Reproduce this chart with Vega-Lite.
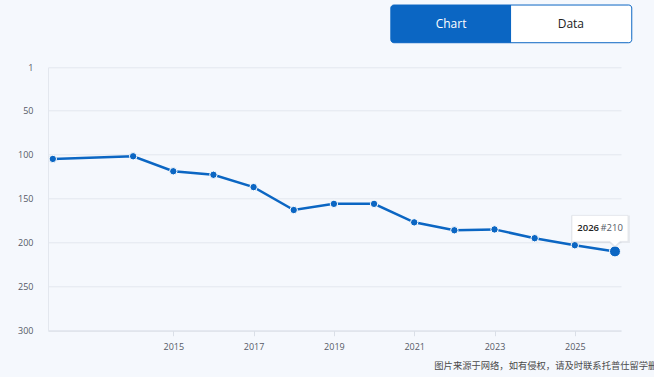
{
  "$schema": "https://vega.github.io/schema/vega-lite/v6.json",
  "width": 573,
  "height": 263.4,
  "autosize": {"type": "none"},
  "padding": {"left": 48, "top": 67.3, "right": 33, "bottom": 46.3},
  "background": "#f5f8fd",
  "config": {
    "view": {"stroke": null},
    "font": "Open Sans",
    "axis": {"labelFont": "Open Sans", "labelColor": "#555a66", "labelFontSize": 9}
  },
  "datasets": {
    "ranks": [
      {"year": 2012, "rank": 105},
      {"year": 2014, "rank": 102},
      {"year": 2015, "rank": 119},
      {"year": 2016, "rank": 123},
      {"year": 2017, "rank": 137},
      {"year": 2018, "rank": 163},
      {"year": 2019, "rank": 156},
      {"year": 2020, "rank": 156},
      {"year": 2021, "rank": 177},
      {"year": 2022, "rank": 186},
      {"year": 2023, "rank": 185},
      {"year": 2024, "rank": 195},
      {"year": 2025, "rank": 203},
      {"year": 2026, "rank": 210}
    ]
  },
  "layer": [
    {
      "data": {"name": "ranks"},
      "encoding": {
        "x": {
          "field": "year", "type": "quantitative",
          "scale": {"domain": [2011.88, 2026.15], "nice": false, "zero": false},
          "axis": {
            "title": null, "values": [2015, 2017, 2019, 2021, 2023, 2025], "format": "d",
            "grid": false, "domainColor": "#dadfe7", "tickColor": "#dadfe7", "tickSize": 5,
            "labelPadding": 7
          }
        },
        "y": {
          "field": "rank", "type": "quantitative",
          "scale": {"domain": [1, 300], "reverse": true, "nice": false, "zero": false},
          "axis": {
            "title": null, "values": [1, 50, 100, 150, 200, 250, 300],
            "grid": true, "gridColor": "#e3e7ee", "domainColor": "#e3e7ee",
            "ticks": false, "labelPadding": 15
          }
        }
      },
      "layer": [
        {
          "mark": {"type": "line", "color": "#0b66c3", "strokeWidth": 2.5}
        },
        {
          "mark": {"type": "point", "filled": true, "color": "#0b66c3", "stroke": "#ffffff", "strokeWidth": 1, "opacity": 1},
          "encoding": {
            "size": {"condition": {"test": "datum.year === 2026", "value": 120}, "value": 55}
          }
        },
        {
          "transform": [{"filter": "datum.year === 2026"}],
          "mark": {
            "type": "point", "filled": true, "size": 4, "fill": "#000000", "fillOpacity": 0.06, "strokeWidth": 0,
            "shape": "M-44,-36 H15 V-8.5 H5.5 L0,-3.5 L-5.5,-8.5 H-44 Z", "opacity": 1, "dy": 1
          }
        },
        {
          "transform": [{"filter": "datum.year === 2026"}],
          "mark": {
            "type": "point", "filled": true, "size": 4, "fill": "#ffffff", "stroke": "#e2e5ea", "strokeWidth": 0.8,
            "shape": "M-43,-36 H13 V-10 H5 L0,-5 L-5,-10 H-43 Z", "opacity": 1
          }
        },
        {
          "transform": [{"filter": "datum.year === 2026"}],
          "mark": {"type": "text", "align": "left", "baseline": "middle", "dx": -37.7, "dy": -23.4, "fontSize": 9.5, "fontWeight": 600, "color": "#222222"},
          "encoding": {"text": {"field": "year", "type": "nominal"}}
        },
        {
          "transform": [{"filter": "datum.year === 2026"}],
          "mark": {"type": "text", "align": "left", "baseline": "middle", "dx": -14.5, "dy": -23.4, "fontSize": 9.5, "color": "#555a66"},
          "encoding": {"text": {"value": "#210"}}
        }
      ]
    },
    {
      "data": {"values": [{"button": "Data"}]},
      "mark": {"type": "rect", "clip": false, "fill": "#ffffff", "stroke": "#0b66c3", "strokeWidth": 1, "cornerRadius": 3},
      "encoding": {
        "x": {"datum": 2020.418, "type": "quantitative"},
        "x2": {"datum": 2026.418},
        "y": {"datum": -69.7, "type": "quantitative"},
        "y2": {"datum": -26.9}
      }
    },
    {
      "data": {"values": [{"button": "Chart"}]},
      "mark": {"type": "rect", "clip": false, "fill": "#0b66c3", "cornerRadiusTopLeft": 3, "cornerRadiusBottomLeft": 3},
      "encoding": {
        "x": {"datum": 2020.418, "type": "quantitative"},
        "x2": {"datum": 2023.412},
        "y": {"datum": -69.7, "type": "quantitative"},
        "y2": {"datum": -26.9}
      }
    },
    {
      "data": {"values": [{"label": "Chart"}]},
      "mark": {"type": "text", "clip": false, "align": "center", "baseline": "middle", "fontSize": 12, "color": "#ffffff"},
      "encoding": {
        "x": {"datum": 2021.917, "type": "quantitative"},
        "y": {"datum": -48.2, "type": "quantitative"},
        "text": {"field": "label"}
      }
    },
    {
      "data": {"values": [{"label": "Data"}]},
      "mark": {"type": "text", "clip": false, "align": "center", "baseline": "middle", "fontSize": 12, "color": "#222222"},
      "encoding": {
        "x": {"datum": 2024.901, "type": "quantitative"},
        "y": {"datum": -48.2, "type": "quantitative"},
        "text": {"field": "label"}
      }
    },
    {
      "data": {"values": [{"note": "图片来源于网络，如有侵权，请及时联系托普仕留学删除"}]},
      "mark": {"type": "text", "clip": false, "align": "left", "baseline": "middle", "fontSize": 9.3, "font": "Noto Sans CJK SC", "color": "#4a4a4a"},
      "encoding": {
        "x": {"datum": 2021.5, "type": "quantitative"},
        "y": {"datum": 340.1, "type": "quantitative"},
        "text": {"field": "note"}
      }
    }
  ]
}
